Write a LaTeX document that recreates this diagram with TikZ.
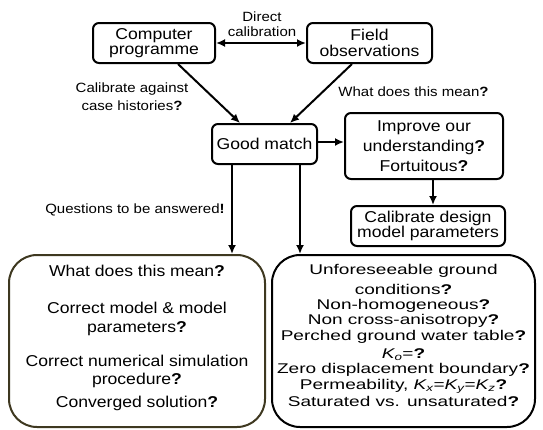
\documentclass[tikz,border=0pt]{standalone}
\usepackage{fontspec}
\setmainfont{Liberation Sans}[FakeStretch=1.12]
\newfontfamily\widefont{Liberation Sans}[FakeStretch=1.35]
\usetikzlibrary{arrows.meta}
\definecolor{olive}{RGB}{62,56,32}
\tikzset{
  box/.style={draw, line width=2pt, rounded corners=6pt, inner sep=0pt, align=center,
              font=\fontsize{15.7}{15.5}\selectfont},
  bigbox/.style={draw, line width=2pt, rounded corners=28pt, inner sep=0pt},
  lbl/.style={inner sep=0pt, align=center, font=\fontsize{13.4}{15}\selectfont},
  arr/.style={line width=2pt, -{Latex[length=9pt,width=8pt]}},
  darr/.style={line width=2pt, {Latex[length=9pt,width=8pt]}-{Latex[length=9pt,width=8pt]}}
}
\newcommand{\q}{\textbf{?}}
\begin{document}
\begin{tikzpicture}[x=1pt,y=-1pt]
\fill[white] (0,0) rectangle (543,429);
\useasboundingbox (0,0) rectangle (543,429);

\node[box, minimum width=122pt, minimum height=40pt] (comp) at (154,43) {Computer\\programme};
\node[box, minimum width=125pt, minimum height=40pt] (field) at (369.5,43) {Field\\observations};
\node[box, minimum width=105pt, minimum height=40pt] (good) at (264.5,144) {Good match};
\node[box, minimum width=158pt, minimum height=66pt, font=\fontsize{15.7}{20}\selectfont] (improve) at (424,146) {Improve our\\understanding\q\\Fortuitous\q};
\node[box, minimum width=154pt, minimum height=40pt] (calib) at (428,226) {Calibrate design\\model parameters};

\node[bigbox, draw=olive, minimum width=256pt, minimum height=172pt] (lbox) at (137,341) {};
\node[bigbox, minimum width=263pt, minimum height=172pt] (rbox) at (403.5,341) {};

\node[inner sep=0pt, align=center, font=\fontsize{15.7}{18.5}\selectfont] (ltext) at (137,338)
 {What does this mean\q\\[18.5pt]
  Correct model \& model\\
  parameters\q\\[15.5pt]
  Correct numerical simulation\\
  procedure\q\\[4.5pt]
  Converged solution\q};

\node[inner sep=0pt, align=center, font=\widefont\fontsize{14.1}{16.5}\selectfont] (rtext) at (403.5,335)
 {Unforeseeable ground\\[3.5pt]
  conditions\q\\[-1.5pt]
  Non-homogeneous\q\\[-1.5pt]
  Non cross-anisotropy\q\\
  Perched ground water table\q\\[1pt]
  \textit{K\textsubscript{o}}=\q\\[-1.5pt]
  Zero displacement boundary\q\\
  Permeability, \textit{K\textsubscript{x}}=\textit{K\textsubscript{y}}=\textit{K\textsubscript{z}}\q\\
  Saturated vs. unsaturated\q};

\node[lbl] (ldirect) at (262,24.5) {Direct\\calibration};
\node[lbl, font=\fontsize{13.4}{18}\selectfont] (lcal) at (132,97) {Calibrate against\\case histories\q};
\node[lbl] (lwhat) at (413.5,92) {What does this mean\q};
\node[lbl] (lquest) at (135,210) {Questions to be answered\textbf{!}};

\draw[darr] (comp.east) -- (field.west);
\draw[arr] ([xshift=24pt]comp.south) -- ([xshift=-24.5pt]good.north);
\draw[arr] ([xshift=-17.5pt]field.south) -- ([xshift=25.5pt]good.north);
\draw[arr] ([yshift=2pt]good.east) -- ([yshift=2pt]good.east -| improve.west);
\draw[arr] ([xshift=9pt]improve.south) -- ([xshift=9pt]improve.south |- calib.north);
\draw[arr] ([xshift=-32.5pt]good.south) -- ([xshift=-32.5pt]good.south |- lbox.north);
\draw[arr] ([xshift=35.5pt]good.south) -- ([xshift=35.5pt]good.south |- rbox.north);
\end{tikzpicture}
\end{document}
